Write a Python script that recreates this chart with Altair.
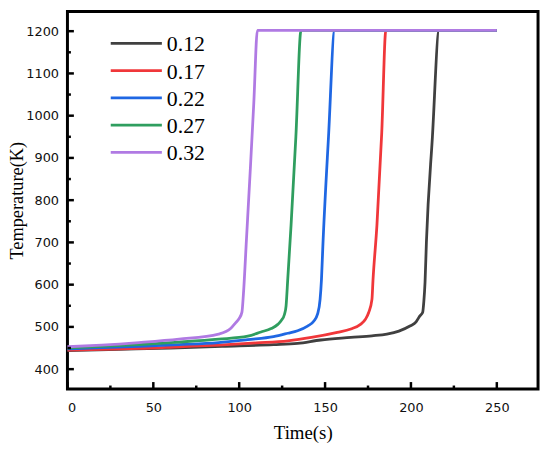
import altair as alt
import pandas as pd

# ---- data ----
series = ["0.12", "0.17", "0.22", "0.27", "0.32"]
colors = ["#404040", "#f0373a", "#1f67e3", "#2f9e5f", "#b07ae3"]

t_012 = [0, 30, 60, 90, 120, 134, 147.5, 165, 177.3, 186, 193, 199.4, 203, 205.2, 206.8, 207.5, 208.2, 209, 212.5, 216.4, 250]
T_012 = [444, 447, 450, 454, 458, 461, 469, 475, 479, 483, 490, 502, 512, 526, 534, 560, 605, 700, 950, 1202, 1202]

t_017 = [0, 20, 41.7, 65, 88, 110, 128.3, 142, 157.1, 165, 170.6, 173.5, 175.4, 177.3, 177.9, 180.2, 183, 185.4, 250]
T_017 = [445, 447, 449, 453, 457, 462, 467, 475, 487, 495, 506, 518, 534, 565, 610, 741, 960, 1202, 1202]

t_022 = [0, 20, 41.7, 65, 88, 105, 120, 128.3, 134, 139.8, 143.5, 145.6, 147.1, 147.9, 148.7, 152, 155.6, 250]
T_022 = [448, 451, 454, 458, 463, 470, 477, 485, 491, 502, 514, 530, 565, 612, 690, 950, 1202, 1202]

t_027 = [0, 20, 41.7, 65, 88, 105, 112.7, 118.6, 122.5, 124.5, 126.4, 127.3, 128.3, 130.2, 133, 136, 250]
T_027 = [450, 454, 458, 464, 471, 478, 488, 496, 506, 515, 530, 550, 615, 741, 950, 1202, 1202]

t_032 = [0, 20, 41.7, 65, 88, 95, 98, 100, 101.6, 102.5, 104.2, 106.5, 108.5, 110.6, 250]
T_032 = [453, 457, 463, 471, 483, 496, 510, 520, 535, 580, 705, 875, 1030, 1202, 1202]

x_major = [0, 50, 100, 150, 200, 250]
x_minor = [25, 75, 125, 175, 225]
y_major = [400, 500, 600, 700, 800, 900, 1000, 1100, 1200]
y_minor = [450, 550, 650, 750, 850, 950, 1050, 1150]

# ---- build tables ----
rows = []
for s, ts, Ts in zip(series, [t_012, t_017, t_022, t_027, t_032],
                     [T_012, T_017, T_022, T_027, T_032]):
    for t, T in zip(ts, Ts):
        rows.append({"series": s, "t": t, "T": T})
df = pd.DataFrame(rows)

W, H = 475, 381
xs = alt.Scale(domain=[0, 274], nice=False, zero=False)
ys = alt.Scale(domain=[353, 1246.5], nice=False, zero=False)
cs = alt.Scale(domain=series, range=colors)

LBL = "DejaVu Sans"
SERIF = "Liberation Serif"

x_axis = alt.Axis(
    values=x_major, title="Time(s)", ticks=False, domain=False, grid=False,
    labelFont=LBL, labelFontSize=13, labelColor="#111", labelPadding=13,
    titleFont=SERIF, titleFontSize=19, titleFontWeight="normal",
    titleColor="#000", titlePadding=9)
y_axis = alt.Axis(
    values=y_major, format="d", title="Temperature(K)", ticks=False, domain=False,
    grid=False, labelFont=LBL, labelFontSize=13, labelColor="#111", labelPadding=9,
    titleFont=SERIF, titleFontSize=18.5, titleFontWeight="normal",
    titleColor="#000", titleX=-51, titleY=H / 2, titleAngle=270,
    titleAlign="center", titleBaseline="middle")

main = alt.Chart(df).mark_line(strokeWidth=2.8, interpolate="monotone").encode(
    x=alt.X("t:Q", scale=xs, axis=x_axis),
    y=alt.Y("T:Q", scale=ys, axis=y_axis),
    color=alt.Color("series:N", scale=cs, legend=None),
)

xt_major = alt.Chart(pd.DataFrame({"t": x_major})).mark_rule(
    color="black", strokeWidth=2.5).encode(
    x=alt.X("t:Q", scale=xs, axis=x_axis), y=alt.value(H), y2=alt.value(H - 7))
xt_minor = alt.Chart(pd.DataFrame({"t": x_minor})).mark_rule(
    color="black", strokeWidth=2.5).encode(
    x=alt.X("t:Q", scale=xs, axis=x_axis), y=alt.value(H), y2=alt.value(H - 3.5))
yt_major = alt.Chart(pd.DataFrame({"v": y_major})).mark_rule(
    color="black", strokeWidth=2.5).encode(
    y=alt.Y("v:Q", scale=ys, axis=None), x=alt.value(0), x2=alt.value(6.5))
yt_minor = alt.Chart(pd.DataFrame({"v": y_minor})).mark_rule(
    color="black", strokeWidth=2.5).encode(
    y=alt.Y("v:Q", scale=ys, axis=None), x=alt.value(0), x2=alt.value(3.5))

leg_df = pd.DataFrame({"series": series})
leg_y = alt.Scale(type="point", domain=series, range=[32.2, 142.2], padding=0)
leg_line = alt.Chart(leg_df).mark_rule(strokeWidth=2.8).encode(
    y=alt.Y("series:N", scale=leg_y, axis=None),
    x=alt.value(43.7), x2=alt.value(95.3),
    color=alt.Color("series:N", scale=cs, legend=None),
)
leg_text = alt.Chart(leg_df).mark_text(
    align="left", baseline="middle", font=SERIF, fontSize=22, color="black", dy=1).encode(
    y=alt.Y("series:N", scale=leg_y, axis=None),
    x=alt.value(100.3),
    text="series:N",
)

chart = alt.layer(main, xt_major, xt_minor, yt_major, yt_minor, leg_line, leg_text).resolve_scale(
    y="independent"
).properties(
    width=W, height=H,
    background="white",
    autosize=alt.AutoSizeParams(type="none"),
    padding={"left": 60, "top": 1.5, "right": 4, "bottom": 60},
).configure_view(stroke="black", strokeWidth=3)

chart.save("out.html", embed_options={"renderer": "svg", "actions": False})
